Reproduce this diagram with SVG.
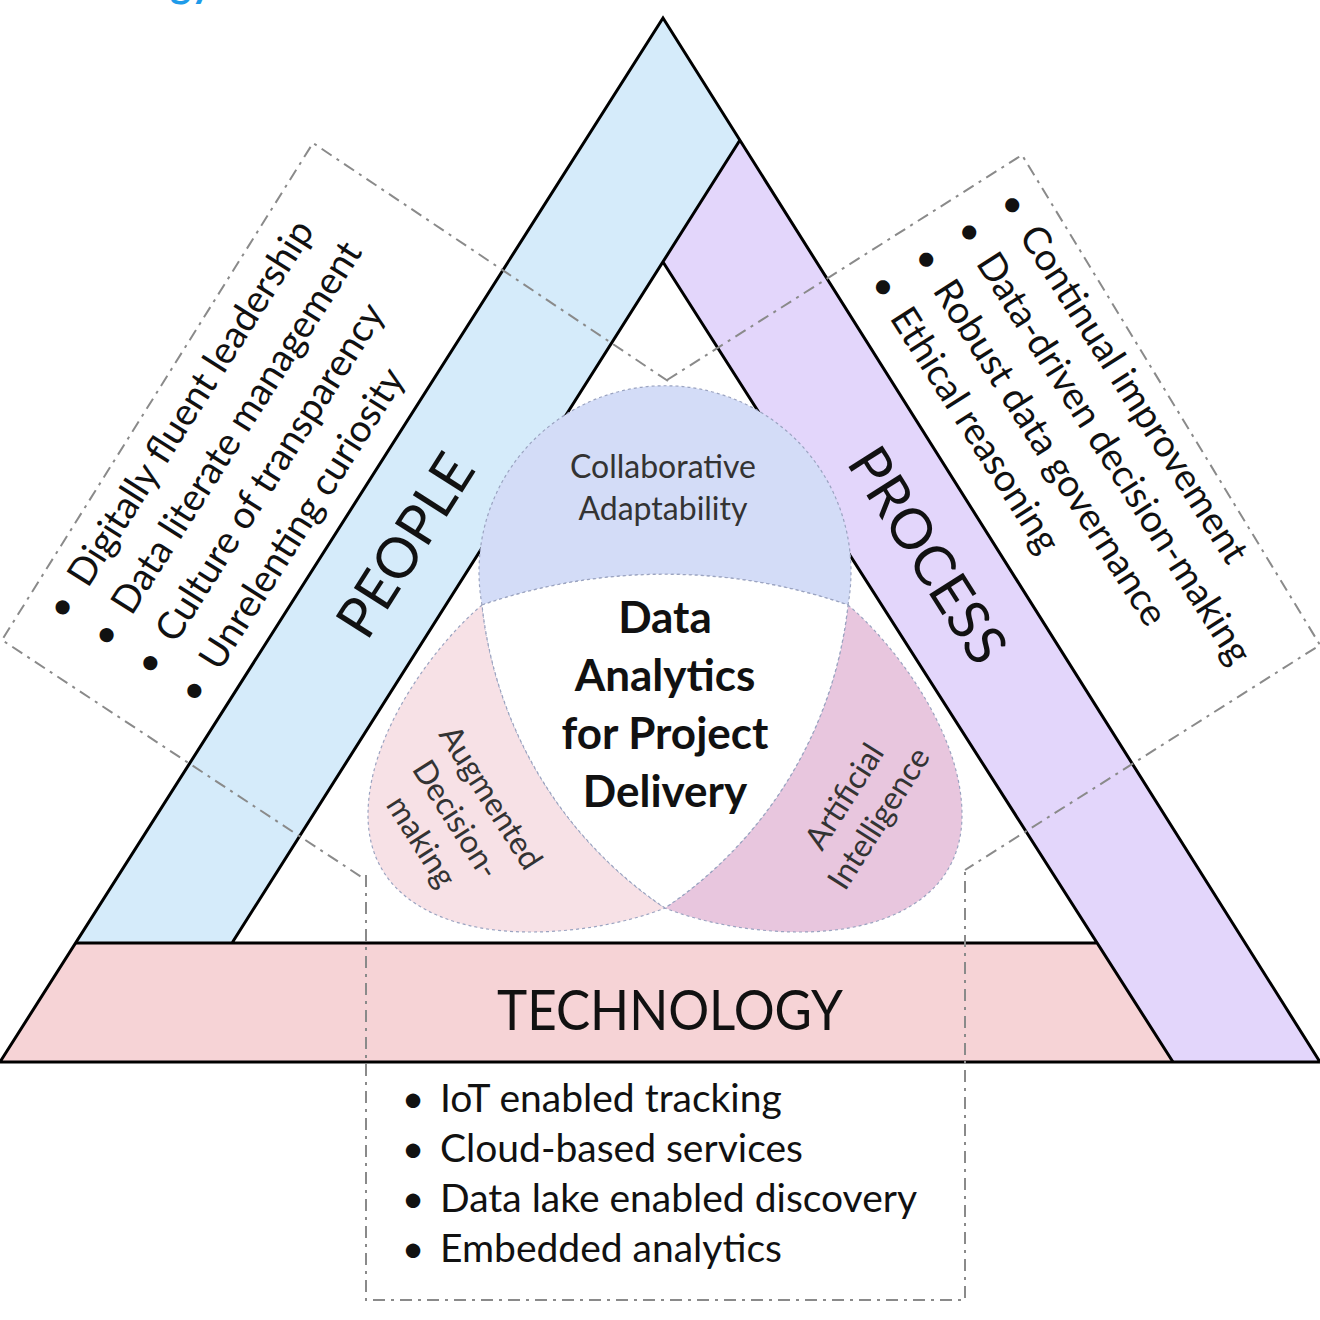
<svg xmlns="http://www.w3.org/2000/svg" width="1320" height="1320" viewBox="0 0 1320 1320">
<style>
.line{fill:none;stroke:#000;stroke-width:3;stroke-linejoin:miter}
.box{fill:none;stroke:#8a8a8a;stroke-width:2;stroke-dasharray:12 6 3 6}
.t{font-family:Lato,"Open Sans",sans-serif;fill:#111}
.big{font-size:56px}
.item{font-size:38px}
.titem{font-size:39px}
.petal{font-size:32px;fill:#333}
.core{font-size:44px;font-weight:bold}
.circ{stroke:#9aa3c0;stroke-width:1.2;stroke-dasharray:3 3}
</style>
<rect width="1320" height="1320" fill="#fff"/>
<text x="170" y="-3" font-family="Lato, sans-serif" font-weight="bold" font-size="40" fill="#1e9be9">gy</text>

<g id="people-band"><polygon points="663,18 740,140 232,943 76,943" fill="#d5ebfa"/></g>
<g id="process-band"><polygon points="740,140 1320,1062 1173,1062 663,262" fill="#e3d6fb"/></g>
<g id="technology-band"><polygon points="76,943 1097,943 1173,1062 0,1062" fill="#f6d3d6"/></g>
<g id="outlines">
<path class="line" d="M0,1062 L663,18 L1320,1062 Z"/>
<path class="line" d="M740,140 L232,943 M663,262 L1173,1062 M76,943 L1097,943"/>
</g>

<g id="connectors">
<path class="box" d="M668,381 L313,143 L2,640 L366,880"/>
<path class="box" d="M667,380 L1022,155 L1320,645 L965,870"/>
<path class="box" d="M366,875 V1300 H965 V870"/>
</g>

<g id="venn">
<path id="collab-petal" class="circ" fill="#d3dcf7" d="M482,605 A186,186 0 1 1 848,605 A560,560 0 0 0 482,605 Z"/>
<path id="augmented-petal" class="circ" fill="#f7e1e6" d="M482,605 C440,640 368,730 368,815 C368,895 440,932 530,932 C580,932 630,922 665,908 A420,420 0 0 1 482,605 Z"/>
<path id="ai-petal" class="circ" fill="#e8c6de" d="M848,605 C890,640 962,730 962,815 C962,895 890,932 800,932 C750,932 700,922 665,908 A420,420 0 0 0 848,605 Z"/>
<path id="core-shape" class="circ" fill="#fff" d="M482,605 A560,560 0 0 1 848,605 A420,420 0 0 1 665,908 A420,420 0 0 1 482,605 Z"/>
</g>

<g id="people-label" transform="translate(405,545) rotate(-57.6)"><text class="t big" x="0" y="20" text-anchor="middle">PEOPLE</text></g>
<g id="process-label" transform="translate(928,555) rotate(57.6)"><text class="t big" x="0" y="20" text-anchor="middle">PROCESS</text></g>
<g id="technology-label"><text class="t" x="670" y="1030" font-size="57" text-anchor="middle" textLength="346" lengthAdjust="spacingAndGlyphs">TECHNOLOGY</text></g>

<g id="people-list" transform="translate(69.5,617.6) rotate(-57.6)" class="t item">
<text x="5" y="0" text-anchor="middle">•</text><text x="34" y="0">Digitally fluent leadership</text>
<text x="5" y="52" text-anchor="middle">•</text><text x="34" y="52">Data literate management</text>
<text x="5" y="104" text-anchor="middle">•</text><text x="34" y="104">Culture of transparency</text>
<text x="5" y="156" text-anchor="middle">•</text><text x="34" y="156">Unrelenting curiosity</text>
</g>

<g id="process-list" transform="translate(1000,207) rotate(57.6)" class="t item">
<text x="5" y="0" text-anchor="middle">•</text><text x="34" y="0">Continual improvement</text>
<text x="5" y="51" text-anchor="middle">•</text><text x="34" y="51">Data-driven decision-making</text>
<text x="5" y="102" text-anchor="middle">•</text><text x="34" y="102">Robust data governance</text>
<text x="5" y="153" text-anchor="middle">•</text><text x="34" y="153">Ethical reasoning</text>
</g>

<g id="technology-list" class="t titem">
<text x="413" y="1112" text-anchor="middle">•</text><text x="440" y="1112">IoT enabled tracking</text>
<text x="413" y="1162" text-anchor="middle">•</text><text x="440" y="1162">Cloud-based services</text>
<text x="413" y="1212" text-anchor="middle">•</text><text x="440" y="1212">Data lake enabled discovery</text>
<text x="413" y="1262" text-anchor="middle">•</text><text x="440" y="1262">Embedded analytics</text>
</g>

<g id="collaborative-adaptability" class="t petal" text-anchor="middle">
<text x="663" y="478">Collaborative</text>
<text x="663" y="520">Adaptability</text>
</g>
<g id="core" class="t core" text-anchor="middle">
<text x="665" y="633">Data</text>
<text x="665" y="691">Analytics</text>
<text x="665" y="749">for Project</text>
<text x="665" y="807">Delivery</text>
</g>
<g id="augmented-decision-making" class="t petal" text-anchor="middle" transform="translate(490,798) rotate(57.6)">
<text x="0" y="10">Augmented</text>
<text x="0" y="51">Decision-</text>
<text x="0" y="92">making</text>
</g>
<g id="artificial-intelligence" class="t petal" text-anchor="middle" transform="translate(845,797) rotate(-57.6)">
<text x="0" y="10">Artificial</text>
<text x="0" y="51">Intelligence</text>
</g>
</svg>
